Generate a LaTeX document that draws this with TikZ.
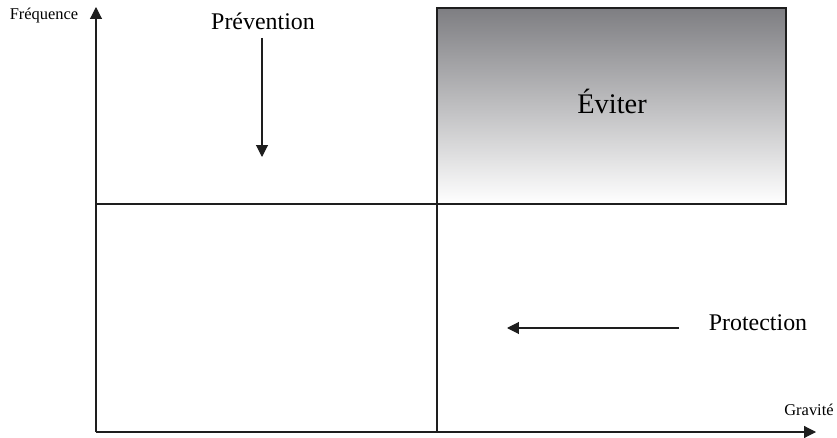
\documentclass[tikz,border=0pt]{standalone}
\usepackage{fontspec}
\setmainfont{Liberation Serif}
\usetikzlibrary{positioning,arrows.meta}
\definecolor{shadetop}{RGB}{126,126,130}
\definecolor{linegray}{RGB}{30,30,30}
\tikzset{
  bigtext/.style={font=\fontsize{24}{28}\selectfont},
  titletext/.style={font=\fontsize{28.5}{32}\selectfont},
  smalltext/.style={font=\fontsize{16.5}{19}\selectfont},
  arrowline/.style={-{Triangle[length=12pt,width=12pt]}, line width=1.1pt}}

\begin{document}
\begin{tikzpicture}[x=1bp, y=-1bp, line width=1.1pt, draw=linegray]
  \useasboundingbox (0,0) rectangle (837,438);
  % axes
  \coordinate (origin) at (96,432);
  \coordinate (ytip) at (96,7);
  \coordinate (xtip) at (816,432);
  \draw[arrowline] (origin) -- (ytip);
  \draw[arrowline] (origin) -- (xtip);
  \node[smalltext] (freq) at (44,16) {Fréquence};
  \node[smalltext] (grav) at (809,410) {Gravité};
  % quadrants
  \shade[top color=shadetop, bottom color=white] (437,8) rectangle (786,204);
  \draw (437,8) rectangle (786,204);
  \coordinate (midleft) at (96,204);
  \coordinate (center) at (437,204);
  \coordinate (centerbottom) at (437,432);
  \draw (midleft) -- (center) -- (centerbottom);
  \node[titletext] (eviter) at (612,101) {Éviter};
  % actions
  \node[bigtext] (prev) at (263,21) {Prévention};
  \coordinate (prevstart) at (262,38);
  \coordinate (prevend) at (262,157);
  \draw[arrowline] (prevstart) -- (prevend);
  \node[bigtext] (prot) at (758,323) {Protection};
  \coordinate (protstart) at (679,328);
  \coordinate (protend) at (507,328);
  \draw[arrowline] (protstart) -- (protend);
\end{tikzpicture}
\end{document}
